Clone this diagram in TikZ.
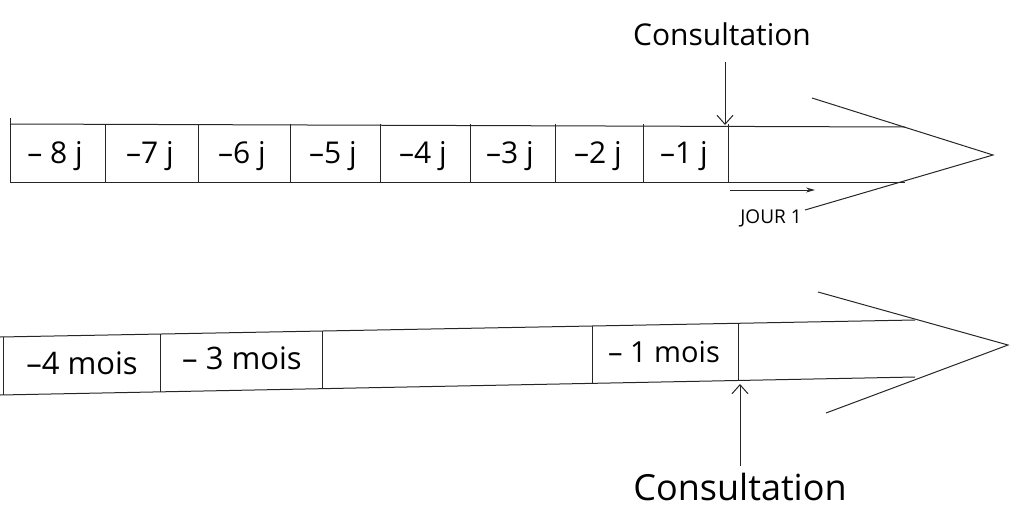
\documentclass[tikz,border=0pt]{standalone}
\usepackage{fontspec}
\setmainfont{Open Sans}
\usetikzlibrary{arrows.meta}
\tikzset{
  pen/.style={line width=1pt, black!85},
  daylab/.style={font=\fontsize{30}{32}\selectfont, inner sep=0pt},
  monthlab/.style={font=\fontsize{31}{33}\selectfont, inner sep=0pt},
  consult/.style={inner sep=0pt},
  barb/.style={-{Straight Barb[length=9pt,width=16pt]}},
}
\begin{document}
\begin{tikzpicture}[x=1pt,y=-1pt]
\useasboundingbox (0,0) rectangle (1012,509);
% ---------- top arrow (days) ----------
\draw[pen] (10,124) -- (905,127);
\draw[pen] (10,182) -- (905,182);
\coordinate (ttip) at (993,155);
\coordinate (tbu) at (812,98);
\coordinate (tbl) at (805,210);
\draw[pen] (tbu) -- (ttip) -- (tbl);
\draw[pen] (10,118) -- (10,182);
\foreach \x in {105,198,290,380,470,555,643,728}
  \draw[pen] (\x,124) -- (\x,182);
\node[daylab] (d8) at (55,156) {– 8 j};
\node[daylab] (d7) at (150,156) {–7 j};
\node[daylab] (d6) at (242,156) {–6 j};
\node[daylab] (d5) at (333,156) {–5 j};
\node[daylab] (d4) at (423,156) {–4 j};
\node[daylab] (d3) at (510,156) {–3 j};
\node[daylab] (d2) at (598,156) {–2 j};
\node[daylab] (d1) at (684,156) {–1 j};
\node[consult, font=\fontsize{30}{32}\selectfont] (ctop) at (722,34) {Consultation};
\coordinate (ctopend) at (725,125);
\draw[pen, barb] (725,62) -- (ctopend);
\coordinate (js) at (730,190);
\coordinate (je) at (815,190);
\draw[pen, line width=0.9pt, -{Stealth[length=9pt,width=5pt]}] (js) -- (je);
\node[font=\fontsize{19}{20}\selectfont, inner sep=0pt] (jour) at (771,218) {JOUR 1};
% ---------- bottom arrow (months) ----------
\draw[pen] (0,337) -- (915,320);
\draw[pen] (0,395) -- (915,377);
\coordinate (btip) at (1008,345);
\coordinate (bbu) at (818,292);
\coordinate (bbl) at (826,413);
\draw[pen] (bbu) -- (btip) -- (bbl);
\draw[pen] (3,337) -- (3,395);
\draw[pen] (160,334) -- (160,392);
\draw[pen] (322,331) -- (322,389);
\draw[pen] (592,326) -- (592,384);
\draw[pen] (738,323) -- (738,381);
\node[monthlab] (m4) at (82,363) {–4 mois};
\node[monthlab] (m3) at (242,358) {– 3 mois};
\node[monthlab, font=\fontsize{29}{31}\selectfont] (m1) at (664,352) {– 1 mois};
\node[consult, font=\fontsize{36}{38}\selectfont] (cbot) at (740,487) {Consultation};
\coordinate (cbotend) at (740,384);
\draw[pen, barb] (740,466) -- (cbotend);
\end{tikzpicture}
\end{document}
